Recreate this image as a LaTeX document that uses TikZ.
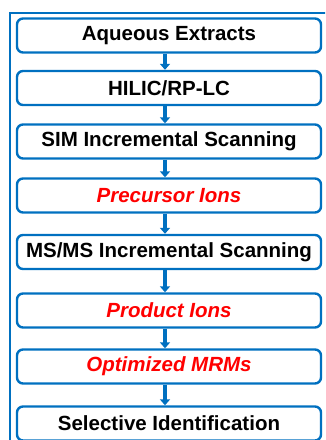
\documentclass[tikz,border=0pt]{standalone}
\usepackage{fontspec}
\setmainfont{Liberation Sans}
\usetikzlibrary{positioning}
\usetikzlibrary{arrows.meta}

\definecolor{pptblue}{RGB}{0,112,192}

\begin{document}
\begin{tikzpicture}[x=1pt, y=-1pt]
	\tikzstyle{stage} = [draw=pptblue, line width=2.4pt, rounded corners=6pt, minimum width=304pt, minimum height=34pt, inner sep=0pt, font=\fontsize{20.5}{24}\selectfont\bfseries]
	\tikzstyle{result} = [stage, text=red, font=\fontsize{20.5}{24}\selectfont\bfseries\itshape]
	\tikzstyle{line} = [draw=pptblue, line width=4pt, -{Triangle[width=10pt, length=6pt]}]
	
	\useasboundingbox (0,0) rectangle (325,440);
	\begin{scope}
	\clip (0,0) rectangle (325,440);
	% outer frame, runs off the page on the right and bottom
	\draw [pptblue, line width=2pt] (10,13) rectangle (340,460);
	
	\node [stage] (aq) at (169,35.5) {Aqueous Extracts};
	\node [stage] (lc) at (169,88) {HILIC/RP-LC};
	\node [stage] (sim) at (169,141.5) {SIM Incremental Scanning};
	\node [result] (prec) at (169,195.5) {Precursor Ions};
	\node [stage] (msms) at (169,252) {MS/MS Incremental Scanning};
	\node [result] (prod) at (169,310.5) {Product Ions};
	\node [result] (mrm) at (169,366.5) {Optimized MRMs};
	\node [stage] (sel) at (169,423.5) {Selective Identification};
	
	\path [line] ([xshift=-4pt]aq.south)  --  ([xshift=-4pt]lc.north);
	\path [line] ([xshift=-4pt]lc.south)  --  ([xshift=-4pt]sim.north);
	\path [line] ([xshift=-4pt]sim.south)  --  ([xshift=-4pt]prec.north);
	\path [line] ([xshift=-4pt]prec.south)  --  ([xshift=-4pt]msms.north);
	\path [line] ([xshift=-4pt]msms.south)  --  ([xshift=-4pt]prod.north);
	\path [line] ([xshift=-4pt]prod.south)  --  ([xshift=-4pt]mrm.north);
	\path [line] ([xshift=-4pt]mrm.south)  --  ([xshift=-4pt]sel.north);
	\end{scope}
\end{tikzpicture}
\end{document}
